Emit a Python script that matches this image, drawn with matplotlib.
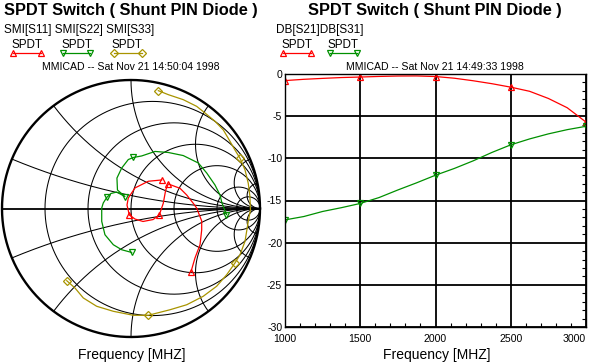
import numpy as np
import matplotlib
matplotlib.use('Agg')
import matplotlib.pyplot as plt
from matplotlib.lines import Line2D
from matplotlib.ticker import MultipleLocator

plt.rcParams['font.family'] = ['Liberation Sans', 'DejaVu Sans']

# ---------------- data ----------------
title = "SPDT Switch ( Shunt PIN Diode )"
smith_header = "SMI[S11] SMI[S22] SMI[S33]"
rect_header = "DB[S21]DB[S31]"
series_name = "SPDT"
smith_stamp = "MMICAD -- Sat Nov 21 14:50:04 1998"
rect_stamp = "MMICAD -- Sat Nov 21 14:49:33 1998"
xlabel = "Frequency [MHZ]"

# Smith chart traces (reflection coefficient, real / imaginary), 1000 -> 3000 MHz
s11_re = [0.465, 0.496, 0.535, 0.548, 0.548, 0.509, 0.483, 0.432, 0.380, 0.289,
          0.269, 0.250, 0.219, 0.171, 0.093, 0.031, -0.013, -0.031, -0.021, 0.031,
          0.134, 0.238]
s11_im = [-0.492, -0.385, -0.282, -0.167, -0.097, 0.004, 0.040, 0.105, 0.157, 0.191,
          0.144, 0.040, -0.051, -0.086, -0.101, -0.082, -0.051, 0.027, 0.082, 0.160,
          0.212, 0.222]
s11_marks = [0, 9, 12, 16, 21]

s22_re = [0.005, -0.072, -0.137, -0.202, -0.227, -0.227, -0.215, -0.188, -0.155, -0.111,
          -0.047, -0.105, -0.109, -0.072, -0.021, 0.018, 0.083, 0.186, 0.289, 0.405,
          0.522, 0.587, 0.651, 0.690, 0.705, 0.740]
s22_im = [-0.342, -0.321, -0.282, -0.204, -0.100, 0.004, 0.043, 0.086, 0.117, 0.128,
          0.093, 0.144, 0.237, 0.315, 0.381, 0.397, 0.409, 0.444, 0.436, 0.412,
          0.354, 0.276, 0.183, 0.105, 0.043, -0.047]
s22_marks = [0, 7, 10, 15, 25]

s33_re = [0.212, 0.289, 0.405, 0.509, 0.574, 0.651, 0.716, 0.754, 0.806, 0.845,
          0.884, 0.909, 0.922, 0.926, 0.909, 0.884, 0.845, 0.806, 0.742, 0.664,
          0.560, 0.432, 0.302, 0.134, 0.018, -0.137, -0.266, -0.370, -0.434, -0.498]
s33_im = [0.917, 0.886, 0.847, 0.795, 0.743, 0.679, 0.611, 0.546, 0.455, 0.391,
          0.300, 0.196, 0.092, -0.012, -0.100, -0.255, -0.360, -0.424, -0.515, -0.605,
          -0.683, -0.749, -0.788, -0.831, -0.831, -0.800, -0.761, -0.696, -0.619, -0.562]
s33_marks = [0, 9, 17, 23, 29]

# Rectangular chart
freq_mhz = [1000, 1125, 1250, 1375, 1500, 1625, 1750, 1875, 2000, 2125, 2250, 2375,
            2500, 2625, 2750, 2875, 3000]
s21_db = [-0.78, -0.63, -0.52, -0.42, -0.36, -0.29, -0.24, -0.23, -0.30, -0.50, -0.80,
          -1.15, -1.56, -2.05, -2.9, -4.0, -5.7]
s31_db = [-17.3, -16.9, -16.3, -15.85, -15.35, -14.65, -13.75, -12.9, -12.0, -11.2,
          -10.3, -9.3, -8.4, -7.7, -7.1, -6.6, -6.2]
marker_freqs = [1000, 1500, 2000, 2500, 3000]
x_ticks = [1000, 1500, 2000, 2500, 3000]
y_ticks = [0, -5, -10, -15, -20, -25, -30]

# Smith grid values
r_circles = [0.2, 0.5, 1, 2, 5, 10]
x_arcs = [0.2, 0.5, 1, 2, 5, 10]

RED = '#ff0000'
GREEN = '#009000'
OLIVE = '#a89400'

# ---------------- figure ----------------
W, H = 590, 364
fig = plt.figure(figsize=(W / 100, H / 100), dpi=100)


def fx(px):
    return px / W


def fy(py):
    return 1 - py / H


# ---- Smith chart ----
ax_s = fig.add_axes([fx(2), fy(337), fx(260) - fx(2), fy(80) - fy(337)])
ax_s.set_xlim(-1, 1)
ax_s.set_ylim(-1, 1)
ax_s.axis('off')

th = np.linspace(0, 2 * np.pi, 720)
for r in r_circles:
    c = r / (1 + r)
    rad = 1 / (1 + r)
    ax_s.plot(c + rad * np.cos(th), rad * np.sin(th), color='black', lw=0.75)
rr = np.concatenate([[0.0], np.logspace(-3, 4, 800)])
for xv in x_arcs:
    for sgn in (1, -1):
        z = rr + 1j * sgn * xv
        g = (z - 1) / (z + 1)
        ax_s.plot(g.real, g.imag, color='black', lw=0.75)
ax_s.plot(np.cos(th), np.sin(th), color='black', lw=1.7, clip_on=False)
ax_s.plot([-1, 1], [0, 0], color='black', lw=1.3, clip_on=False)

for re, im, mk, col, m, ms in [(s11_re, s11_im, s11_marks, RED, '^', 5),
                               (s22_re, s22_im, s22_marks, GREEN, 'v', 5),
                               (s33_re, s33_im, s33_marks, OLIVE, 'D', 3.6)]:
    ax_s.plot(re, im, color=col, lw=0.9)
    ax_s.plot(np.array(re)[mk], np.array(im)[mk], ls='none', marker=m, ms=ms,
              mfc='none', mec=col, mew=0.9)

# ---- Rectangular chart ----
ax_r = fig.add_axes([fx(285), fy(327), fx(586) - fx(285), fy(74) - fy(327)])
ax_r.set_xlim(1000, 3000)
ax_r.set_ylim(-30, 0)
ax_r.set_xticks(x_ticks)
ax_r.set_yticks(y_ticks)
ax_r.set_xticklabels([str(v) for v in x_ticks])
ax_r.set_yticklabels([str(v) for v in y_ticks])
ax_r.xaxis.set_minor_locator(MultipleLocator(100))
ax_r.yaxis.set_minor_locator(MultipleLocator(1))
ax_r.grid(True, which='major', color='black', lw=1.3)
ax_r.tick_params(which='major', length=0, labelsize=7.6)
ax_r.tick_params(axis='x', which='major', pad=5)
ax_r.tick_params(axis='y', which='major', pad=2)
ax_r.tick_params(axis='x', which='minor', direction='in', length=3, width=0.8,
                 bottom=True, top=False)
ax_r.tick_params(axis='y', which='minor', direction='in', length=3, width=0.8,
                 left=False, right=True)
for sp in ax_r.spines.values():
    sp.set_linewidth(1.0)
    sp.set_color('black')
ax_r.get_xticklabels()[-1].set_horizontalalignment('right')

idx = [freq_mhz.index(f) for f in marker_freqs]
ax_r.plot(freq_mhz, s21_db, color=RED, lw=0.9)
ax_r.plot(np.array(freq_mhz)[idx], np.array(s21_db)[idx], ls='none', marker='^', ms=5,
          mfc='none', mec=RED, mew=0.9)
ax_r.plot(freq_mhz, s31_db, color=GREEN, lw=0.9)
ax_r.plot(np.array(freq_mhz)[idx], np.array(s31_db)[idx], ls='none', marker='v', ms=5,
          mfc='none', mec=GREEN, mew=0.9)

# ---- texts ----
for cx in (131, 435):
    fig.text(fx(cx), fy(14.5), title, ha='center', va='baseline', fontsize=11.8,
             fontweight='bold')
fig.text(fx(4), fy(32.7), smith_header, ha='left', va='baseline', fontsize=8.5)
fig.text(fx(276), fy(32.7), rect_header, ha='left', va='baseline', fontsize=8.5)
fig.text(fx(131), fy(70), smith_stamp, ha='center', va='baseline', fontsize=7.6)
fig.text(fx(435), fy(70), rect_stamp, ha='center', va='baseline', fontsize=7.6)
fig.text(fx(132), fy(359), xlabel, ha='center', va='baseline', fontsize=10)
fig.text(fx(437), fy(359), xlabel, ha='center', va='baseline', fontsize=10)

# ---- legends ----
legend_items = [(27, 13.3, 40.7, RED, '^', 5), (77, 63.3, 90, GREEN, 'v', 5),
                (127, 114.3, 141.7, OLIVE, 'D', 3.6),
                (297.5, 283, 311, RED, '^', 5), (343, 330, 357, GREEN, 'v', 5)]
for cx, x0, x1, col, m, ms in legend_items:
    fig.text(fx(cx), fy(48.3), series_name, ha='center', va='baseline', fontsize=8.4)
    fig.add_artist(Line2D([fx(x0), fx(x1)], [fy(53.3), fy(53.3)], transform=fig.transFigure,
                          color=col, lw=0.9, marker=m, ms=ms, mfc='none', mec=col, mew=0.9))

fig.savefig('out.png', dpi=100)
